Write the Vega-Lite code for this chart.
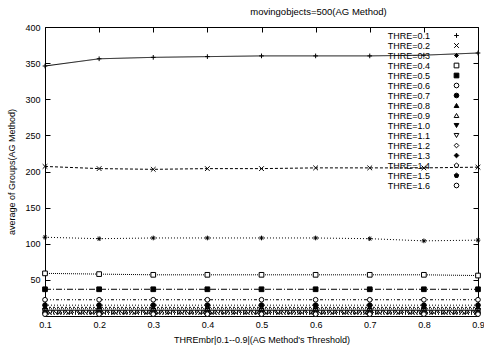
{
  "$schema": "https://vega.github.io/schema/vega-lite/v6.json",
  "autosize": {"type": "none"},
  "width": 433,
  "height": 289,
  "padding": {"left": 45, "top": 27, "right": 6, "bottom": 32},
  "background": "white",
  "title": {"text": "movingobjects=500(AG Method)", "fontSize": 9.5, "font": "Liberation Sans", "fontWeight": "normal", "dx": 57, "offset": 7, "color": "black"},
  "config": {
    "view": {"stroke": null},
    "font": "Liberation Sans",
    "axis": {"grid": false, "domainColor": "black", "tickColor": "black", "labelColor": "black", "titleColor": "black", "labelFontSize": 9, "titleFontSize": 9, "titleFontWeight": "normal", "tickSize": -5, "labelFlush": false, "labelFont": "Liberation Sans", "titleFont": "Liberation Sans"},
    "legend": {"labelFontSize": 9, "labelFont": "Liberation Sans", "labelColor": "black", "symbolOpacity": 1, "symbolStrokeWidth": 1, "orient": "none", "legendX": 407, "legendY": 4, "labelAlign": "right", "labelOffset": -31, "rowPadding": -0.8, "symbolSize": 22, "padding": 0}
  },
  "data": {"values": [
    {"t":"THRE=0.1","x":0.1,"y":346},{"t":"THRE=0.1","x":0.2,"y":356},{"t":"THRE=0.1","x":0.3,"y":358},{"t":"THRE=0.1","x":0.4,"y":359},{"t":"THRE=0.1","x":0.5,"y":360},{"t":"THRE=0.1","x":0.6,"y":360},{"t":"THRE=0.1","x":0.7,"y":360},{"t":"THRE=0.1","x":0.8,"y":361},{"t":"THRE=0.1","x":0.9,"y":364},
    {"t":"THRE=0.2","x":0.1,"y":207},{"t":"THRE=0.2","x":0.2,"y":204},{"t":"THRE=0.2","x":0.3,"y":203},{"t":"THRE=0.2","x":0.4,"y":204},{"t":"THRE=0.2","x":0.5,"y":204},{"t":"THRE=0.2","x":0.6,"y":205},{"t":"THRE=0.2","x":0.7,"y":205},{"t":"THRE=0.2","x":0.8,"y":205},{"t":"THRE=0.2","x":0.9,"y":206},
    {"t":"THRE=0.3","x":0.1,"y":109},{"t":"THRE=0.3","x":0.2,"y":107},{"t":"THRE=0.3","x":0.3,"y":108},{"t":"THRE=0.3","x":0.4,"y":108},{"t":"THRE=0.3","x":0.5,"y":108},{"t":"THRE=0.3","x":0.6,"y":108},{"t":"THRE=0.3","x":0.7,"y":107},{"t":"THRE=0.3","x":0.8,"y":104},{"t":"THRE=0.3","x":0.9,"y":105},
    {"t":"THRE=0.4","x":0.1,"y":59},{"t":"THRE=0.4","x":0.2,"y":58},{"t":"THRE=0.4","x":0.3,"y":57},{"t":"THRE=0.4","x":0.4,"y":57},{"t":"THRE=0.4","x":0.5,"y":57},{"t":"THRE=0.4","x":0.6,"y":57},{"t":"THRE=0.4","x":0.7,"y":57},{"t":"THRE=0.4","x":0.8,"y":57},{"t":"THRE=0.4","x":0.9,"y":56},
    {"t":"THRE=0.5","x":0.1,"y":37},{"t":"THRE=0.5","x":0.2,"y":37},{"t":"THRE=0.5","x":0.3,"y":37},{"t":"THRE=0.5","x":0.4,"y":37},{"t":"THRE=0.5","x":0.5,"y":37},{"t":"THRE=0.5","x":0.6,"y":37},{"t":"THRE=0.5","x":0.7,"y":37},{"t":"THRE=0.5","x":0.8,"y":37},{"t":"THRE=0.5","x":0.9,"y":37},
    {"t":"THRE=0.6","x":0.1,"y":22.5},{"t":"THRE=0.6","x":0.2,"y":22.5},{"t":"THRE=0.6","x":0.3,"y":22.5},{"t":"THRE=0.6","x":0.4,"y":22.5},{"t":"THRE=0.6","x":0.5,"y":22.5},{"t":"THRE=0.6","x":0.6,"y":22.5},{"t":"THRE=0.6","x":0.7,"y":22.5},{"t":"THRE=0.6","x":0.8,"y":22.5},{"t":"THRE=0.6","x":0.9,"y":22.5},
    {"t":"THRE=0.7","x":0.1,"y":15},{"t":"THRE=0.7","x":0.2,"y":15},{"t":"THRE=0.7","x":0.3,"y":15},{"t":"THRE=0.7","x":0.4,"y":15},{"t":"THRE=0.7","x":0.5,"y":15},{"t":"THRE=0.7","x":0.6,"y":15},{"t":"THRE=0.7","x":0.7,"y":15},{"t":"THRE=0.7","x":0.8,"y":15},{"t":"THRE=0.7","x":0.9,"y":15},
    {"t":"THRE=0.8","x":0.1,"y":12},{"t":"THRE=0.8","x":0.2,"y":12},{"t":"THRE=0.8","x":0.3,"y":12},{"t":"THRE=0.8","x":0.4,"y":12},{"t":"THRE=0.8","x":0.5,"y":12},{"t":"THRE=0.8","x":0.6,"y":12},{"t":"THRE=0.8","x":0.7,"y":12},{"t":"THRE=0.8","x":0.8,"y":12},{"t":"THRE=0.8","x":0.9,"y":12},
    {"t":"THRE=0.9","x":0.1,"y":10},{"t":"THRE=0.9","x":0.2,"y":10},{"t":"THRE=0.9","x":0.3,"y":10},{"t":"THRE=0.9","x":0.4,"y":10},{"t":"THRE=0.9","x":0.5,"y":10},{"t":"THRE=0.9","x":0.6,"y":10},{"t":"THRE=0.9","x":0.7,"y":10},{"t":"THRE=0.9","x":0.8,"y":10},{"t":"THRE=0.9","x":0.9,"y":10},
    {"t":"THRE=1.0","x":0.1,"y":8},{"t":"THRE=1.0","x":0.2,"y":8},{"t":"THRE=1.0","x":0.3,"y":8},{"t":"THRE=1.0","x":0.4,"y":8},{"t":"THRE=1.0","x":0.5,"y":8},{"t":"THRE=1.0","x":0.6,"y":8},{"t":"THRE=1.0","x":0.7,"y":8},{"t":"THRE=1.0","x":0.8,"y":8},{"t":"THRE=1.0","x":0.9,"y":8},
    {"t":"THRE=1.1","x":0.1,"y":7},{"t":"THRE=1.1","x":0.2,"y":7},{"t":"THRE=1.1","x":0.3,"y":7},{"t":"THRE=1.1","x":0.4,"y":7},{"t":"THRE=1.1","x":0.5,"y":7},{"t":"THRE=1.1","x":0.6,"y":7},{"t":"THRE=1.1","x":0.7,"y":7},{"t":"THRE=1.1","x":0.8,"y":7},{"t":"THRE=1.1","x":0.9,"y":7},
    {"t":"THRE=1.2","x":0.1,"y":6},{"t":"THRE=1.2","x":0.2,"y":6},{"t":"THRE=1.2","x":0.3,"y":6},{"t":"THRE=1.2","x":0.4,"y":6},{"t":"THRE=1.2","x":0.5,"y":6},{"t":"THRE=1.2","x":0.6,"y":6},{"t":"THRE=1.2","x":0.7,"y":6},{"t":"THRE=1.2","x":0.8,"y":6},{"t":"THRE=1.2","x":0.9,"y":6},
    {"t":"THRE=1.3","x":0.1,"y":5},{"t":"THRE=1.3","x":0.2,"y":5},{"t":"THRE=1.3","x":0.3,"y":5},{"t":"THRE=1.3","x":0.4,"y":5},{"t":"THRE=1.3","x":0.5,"y":5},{"t":"THRE=1.3","x":0.6,"y":5},{"t":"THRE=1.3","x":0.7,"y":5},{"t":"THRE=1.3","x":0.8,"y":5},{"t":"THRE=1.3","x":0.9,"y":5},
    {"t":"THRE=1.4","x":0.1,"y":4},{"t":"THRE=1.4","x":0.2,"y":4},{"t":"THRE=1.4","x":0.3,"y":4},{"t":"THRE=1.4","x":0.4,"y":4},{"t":"THRE=1.4","x":0.5,"y":4},{"t":"THRE=1.4","x":0.6,"y":4},{"t":"THRE=1.4","x":0.7,"y":4},{"t":"THRE=1.4","x":0.8,"y":4},{"t":"THRE=1.4","x":0.9,"y":4},
    {"t":"THRE=1.5","x":0.1,"y":3},{"t":"THRE=1.5","x":0.2,"y":3},{"t":"THRE=1.5","x":0.3,"y":3},{"t":"THRE=1.5","x":0.4,"y":3},{"t":"THRE=1.5","x":0.5,"y":3},{"t":"THRE=1.5","x":0.6,"y":3},{"t":"THRE=1.5","x":0.7,"y":3},{"t":"THRE=1.5","x":0.8,"y":3},{"t":"THRE=1.5","x":0.9,"y":3},
    {"t":"THRE=1.6","x":0.1,"y":2.5},{"t":"THRE=1.6","x":0.2,"y":2.5},{"t":"THRE=1.6","x":0.3,"y":2.5},{"t":"THRE=1.6","x":0.4,"y":2.5},{"t":"THRE=1.6","x":0.5,"y":2.5},{"t":"THRE=1.6","x":0.6,"y":2.5},{"t":"THRE=1.6","x":0.7,"y":2.5},{"t":"THRE=1.6","x":0.8,"y":2.5},{"t":"THRE=1.6","x":0.9,"y":2.5}
  ]},
  "layer": [
    {
      "mark": {"type": "line", "strokeWidth": 1, "stroke": "black"},
      "encoding": {
        "x": {"field": "x", "type": "quantitative", "scale": {"domain": [0.1, 0.9], "nice": false, "zero": false},
              "axis": {"orient": "bottom", "values": [0.1,0.2,0.3,0.4,0.5,0.6,0.7,0.8,0.9], "format": ".1f", "title": "THREmbr|0.1--0.9|(AG Method's Threshold)", "labelPadding": 9, "titlePadding": 6}},
        "y": {"field": "y", "type": "quantitative", "scale": {"domain": [0, 400], "nice": false},
              "axis": {"orient": "left", "values": [50,100,150,200,250,300,350,400], "title": "average of Groups(AG Method)", "labelPadding": 10, "titlePadding": 8}},
        "detail": {"field": "t", "type": "nominal"},
        "strokeDash": {"field": "t", "type": "nominal", "legend": null,
          "scale": {"range": [[1,0],[3,2],[1,2],[1,1],[6,2,1,2],[3,2,1,2,1,2],[1,2],[2,2],[1,1],[1,0],[4,2],[1,2],[1,1],[6,2,1,2],[3,2,1,2,1,2],[1,2]]}}
      }
    },
    {
      "mark": {"type": "point", "filled": true, "size": 22, "strokeWidth": 1, "opacity": 1},
      "encoding": {
        "x": {"field": "x", "type": "quantitative", "axis": {"orient": "top", "values": [0.1,0.2,0.3,0.4,0.5,0.6,0.7,0.8,0.9], "labels": false, "title": null}},
        "y": {"field": "y", "type": "quantitative", "axis": {"orient": "right", "values": [50,100,150,200,250,300,350,400], "labels": false, "title": null}},
        "stroke": {"field": "t", "type": "nominal", "title": null, "scale": {"range": ["black"]}},
        "fill": {"field": "t", "type": "nominal", "title": null,
          "scale": {"range": ["white","white","white","white","black","white","black","black","white","black","white","white","black","white","black","white"]}},
        "shape": {"field": "t", "type": "nominal", "title": null,
          "scale": {"range": ["M-1,0H1M0,-1V1","M-1,-1L1,1M-1,1L1,-1","M-1,0H1M0,-1V1M-0.7,-0.7L0.7,0.7M-0.7,0.7L0.7,-0.7","square","square","circle","circle","triangle-up","triangle-up","triangle-down","triangle-down","diamond","diamond","M0,-1L0.951,-0.309L0.588,0.809L-0.588,0.809L-0.951,-0.309Z","M0,-1L0.951,-0.309L0.588,0.809L-0.588,0.809L-0.951,-0.309Z","circle"]}}
      }
    }
  ],
  "resolve": {"axis": {"x": "independent", "y": "independent"}}
}
